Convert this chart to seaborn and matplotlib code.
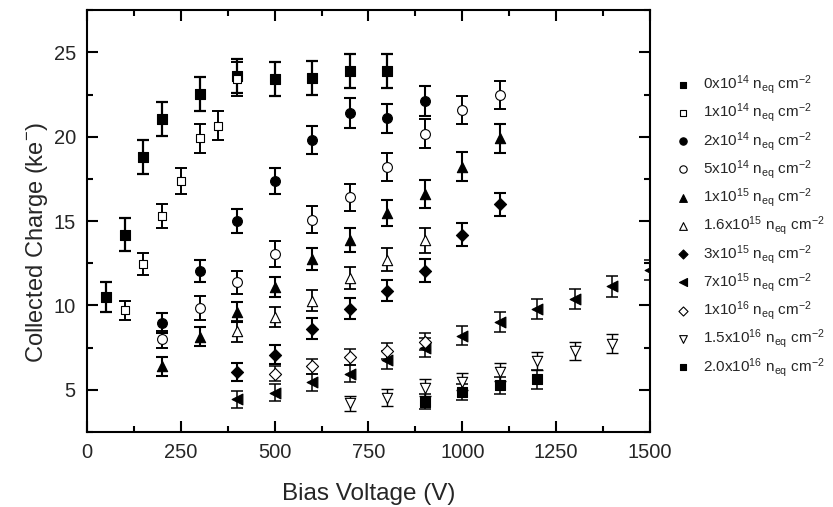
import matplotlib
matplotlib.use("Agg")
import matplotlib.pyplot as plt
import seaborn as sns
import numpy as np
import pandas as pd
from matplotlib.ticker import MultipleLocator

sns.set_theme(style="ticks")
plt.rcParams['font.family'] = ['Liberation Sans', 'DejaVu Sans']
plt.rcParams['mathtext.fontset'] = 'custom'
plt.rcParams['mathtext.rm'] = 'Liberation Sans'
plt.rcParams['mathtext.it'] = 'Liberation Sans'

# ---------------- data ----------------
labels = [
    r'0x10$^{14}$ n$_{eq}$ cm$^{-2}$',
    r'1x10$^{14}$ n$_{eq}$ cm$^{-2}$',
    r'2x10$^{14}$ n$_{eq}$ cm$^{-2}$',
    r'5x10$^{14}$ n$_{eq}$ cm$^{-2}$',
    r'1x10$^{15}$ n$_{eq}$ cm$^{-2}$',
    r'1.6x10$^{15}$ n$_{eq}$ cm$^{-2}$',
    r'3x10$^{15}$ n$_{eq}$ cm$^{-2}$',
    r'7x10$^{15}$ n$_{eq}$ cm$^{-2}$',
    r'1x10$^{16}$ n$_{eq}$ cm$^{-2}$',
    r'1.5x10$^{16}$ n$_{eq}$ cm$^{-2}$',
    r'2.0x10$^{16}$ n$_{eq}$ cm$^{-2}$',
]

v_0e14 = [50, 100, 150, 200, 300, 400, 500, 600, 700, 800]
q_0e14 = [10.5, 14.2, 18.8, 21.05, 22.55, 23.6, 23.4, 23.5, 23.9, 23.9]
e_0e14 = [0.9, 1.0, 1.0, 1.0, 1.0, 1.0, 1.0, 1.0, 1.0, 1.0]

v_1e14 = [100, 150, 200, 250, 300, 350, 400]
q_1e14 = [9.7, 12.47, 15.3, 17.35, 19.9, 20.65, 23.4]
e_1e14 = [0.57, 0.66, 0.73, 0.77, 0.84, 0.87, 1.0]

v_2e14 = [200, 300, 400, 500, 600, 700, 800, 900]
q_2e14 = [8.96, 12.06, 14.98, 17.38, 19.79, 21.39, 21.09, 22.12]
e_2e14 = [0.57, 0.65, 0.71, 0.77, 0.83, 0.89, 0.87, 0.89]

v_5e14 = [200, 300, 400, 500, 600, 700, 800, 900, 1000, 1100]
q_5e14 = [8.0, 9.85, 11.37, 13.07, 15.08, 16.4, 18.2, 20.18, 21.59, 22.47]
e_5e14 = [0.5, 0.71, 0.68, 0.77, 0.79, 0.81, 0.82, 0.84, 0.82, 0.81]

v_1e15 = [200, 300, 400, 500, 600, 700, 800, 900, 1000, 1100]
q_1e15 = [6.4, 8.14, 9.59, 11.09, 12.75, 13.9, 15.47, 16.6, 18.23, 19.91]
e_1e15 = [0.56, 0.56, 0.59, 0.62, 0.67, 0.71, 0.76, 0.84, 0.86, 0.86]

v_16e15 = [400, 500, 600, 700, 800, 900]
q_16e15 = [8.47, 9.32, 10.28, 11.63, 12.71, 13.85]
e_16e15 = [0.62, 0.59, 0.64, 0.64, 0.69, 0.74]

v_3e15 = [400, 500, 600, 700, 800, 900, 1000, 1100]
q_3e15 = [6.07, 7.09, 8.61, 9.79, 10.88, 12.06, 14.19, 16.0]
e_3e15 = [0.52, 0.59, 0.62, 0.62, 0.61, 0.70, 0.69, 0.69]

v_7e15 = [400, 500, 600, 700, 800, 900, 1000, 1100, 1200, 1300, 1400, 1500]
q_7e15 = [4.43, 4.82, 5.45, 5.96, 6.79, 7.49, 8.21, 9.02, 9.79, 10.4, 11.13, 12.1]
e_7e15 = [0.49, 0.5, 0.5, 0.52, 0.53, 0.55, 0.57, 0.58, 0.58, 0.6, 0.61, 0.62]

v_1e16 = [500, 600, 700, 800, 900]
q_1e16 = [5.95, 6.4, 6.93, 7.28, 7.84]
e_1e16 = [0.45, 0.45, 0.47, 0.47, 0.5]

v_15e16 = [700, 800, 900, 1000, 1100, 1200, 1300, 1400]
q_15e16 = [4.19, 4.53, 5.12, 5.47, 6.07, 6.69, 7.28, 7.74]
e_15e16 = [0.47, 0.49, 0.5, 0.5, 0.52, 0.53, 0.54, 0.55]

v_2e16 = [900, 1000, 1100, 1200]
q_2e16 = [4.29, 4.86, 5.27, 5.61]
e_2e16 = [0.45, 0.48, 0.5, 0.54]

series_v = [v_0e14, v_1e14, v_2e14, v_5e14, v_1e15, v_16e15, v_3e15, v_7e15, v_1e16, v_15e16, v_2e16]
series_q = [q_0e14, q_1e14, q_2e14, q_5e14, q_1e15, q_16e15, q_3e15, q_7e15, q_1e16, q_15e16, q_2e16]
series_e = [e_0e14, e_1e14, e_2e14, e_5e14, e_1e15, e_16e15, e_3e15, e_7e15, e_1e16, e_15e16, e_2e16]

markers = ['s', 's', 'o', 'o', '^', '^', 'D', '<', 'D', 'v', 's']
filled = [True, False, True, False, True, False, True, True, False, False, True]
sizes = [45, 40, 50, 50, 55, 55, 38, 60, 38, 55, 45]
err_lw = [1.6, 1.4, 1.5, 1.4, 1.5, 1.3, 1.5, 1.1, 1.1, 1.0, 1.1]

# ---------------- figure ----------------
fig = plt.figure(figsize=(8.33, 5.07), dpi=100)
ax = fig.add_axes([0.1044, 0.148, 0.6759, 0.832])

for i, lab in enumerate(labels):
    df = pd.DataFrame({'V': series_v[i], 'Q': series_q[i], 'E': series_e[i]})
    ax.errorbar(df['V'], df['Q'], yerr=df['E'], fmt='none', ecolor='black',
                elinewidth=err_lw[i], capsize=4, capthick=err_lw[i], zorder=2)
    sns.scatterplot(data=df, x='V', y='Q', ax=ax, marker=markers[i],
                    s=sizes[i],
                    color='black' if filled[i] else 'white',
                    edgecolor='black', linewidth=0.8, label=lab, zorder=3)

ax.set_xlim(0, 1500)
ax.set_ylim(2.5, 27.5)
ax.xaxis.set_major_locator(MultipleLocator(250))
ax.xaxis.set_minor_locator(MultipleLocator(125))
ax.yaxis.set_major_locator(MultipleLocator(5))
ax.yaxis.set_minor_locator(MultipleLocator(2.5))
ax.tick_params(which='both', direction='in', top=True, right=True,
               labeltop=False, labelright=False, width=1.5, color='black')
ax.tick_params(which='major', length=8, labelsize=14.5, pad=8)
ax.tick_params(which='minor', length=4.5)
for sp in ax.spines.values():
    sp.set_linewidth(1.5)
    sp.set_color('black')

ax.set_xlabel('Bias Voltage (V)', fontsize=17.5, labelpad=15)
ax.set_ylabel(r'Collected Charge (ke$^{-}$)', fontsize=17)
ax.yaxis.set_label_coords(-0.066, 0.448)

leg = ax.legend(loc='upper left', bbox_to_anchor=(1.035, 0.865), frameon=False,
                fontsize=11, handletextpad=0.75, labelspacing=0.35,
                borderaxespad=0, handlelength=1.0, markerscale=0.75)

fig.savefig('out.png', dpi=100)
